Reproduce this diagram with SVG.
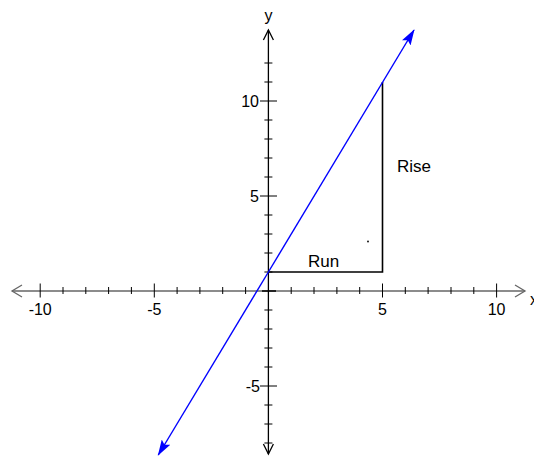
<svg xmlns="http://www.w3.org/2000/svg" width="534" height="456" viewBox="0 0 534 456">
<style>
.t{font-family:"Liberation Sans",Arial,sans-serif;font-size:16px;fill:#000}
.xa{stroke:#666;stroke-width:1.3;fill:none}
.ya{stroke:#000;stroke-width:1.3;fill:none}
.tk{stroke:#000;stroke-width:1}
.tri{stroke:#000;stroke-width:1.6;fill:none}
.ln{stroke:#0000ff;stroke-width:1.4;fill:none}
</style>
<defs>
<marker id="ah" viewBox="0 0 16 10" refX="15" refY="5" markerWidth="16" markerHeight="10" markerUnits="userSpaceOnUse" orient="auto">
<path d="M0,0 L16,5 L0,10 L3,5 Z" fill="#0000ff"/>
</marker>
</defs>
<g id="x-axis">
<line class="xa" x1="12" y1="291" x2="525" y2="291"/>
<polyline class="xa" points="22,285 12,291 22,297"/>
<polyline class="xa" points="515,285 525,291 515,297"/>
<g class="tk">
<line x1="40.2" y1="283.5" x2="40.2" y2="297.5"/>
<line x1="63" y1="287" x2="63" y2="294"/>
<line x1="85.8" y1="287" x2="85.8" y2="294"/>
<line x1="108.6" y1="287" x2="108.6" y2="294"/>
<line x1="131.4" y1="287" x2="131.4" y2="294"/>
<line x1="154.3" y1="283.5" x2="154.3" y2="297.5"/>
<line x1="177.1" y1="287" x2="177.1" y2="294"/>
<line x1="199.9" y1="287" x2="199.9" y2="294"/>
<line x1="222.7" y1="287" x2="222.7" y2="294"/>
<line x1="245.6" y1="287" x2="245.6" y2="294"/>
<line x1="291.2" y1="287" x2="291.2" y2="294"/>
<line x1="314" y1="287" x2="314" y2="294"/>
<line x1="336.9" y1="287" x2="336.9" y2="294"/>
<line x1="359.7" y1="287" x2="359.7" y2="294"/>
<line x1="382.5" y1="283.5" x2="382.5" y2="297.5"/>
<line x1="405.3" y1="287" x2="405.3" y2="294"/>
<line x1="428.1" y1="287" x2="428.1" y2="294"/>
<line x1="451" y1="287" x2="451" y2="294"/>
<line x1="473.8" y1="287" x2="473.8" y2="294"/>
<line x1="496.6" y1="283.5" x2="496.6" y2="297.5"/>
</g>
<text class="t" x="40.2" y="314.5" text-anchor="middle">-10</text>
<text class="t" x="154.3" y="314.5" text-anchor="middle">-5</text>
<text class="t" x="382.5" y="314.5" text-anchor="middle">5</text>
<text class="t" x="496.6" y="314.5" text-anchor="middle">10</text>
<text class="t" x="530" y="305">x</text>
</g>
<g id="y-axis">
<line class="ya" x1="268.4" y1="30" x2="268.4" y2="454"/>
<polyline class="ya" points="263.4,40 268.4,30 273.4,40"/>
<polyline class="ya" points="263.4,444 268.4,454 273.4,444"/>
<g class="tk">
<line x1="264.4" y1="63" x2="272.4" y2="63"/>
<line x1="264.4" y1="82" x2="272.4" y2="82"/>
<line x1="260" y1="101" x2="277" y2="101"/>
<line x1="264.4" y1="120" x2="272.4" y2="120"/>
<line x1="264.4" y1="139" x2="272.4" y2="139"/>
<line x1="264.4" y1="158" x2="272.4" y2="158"/>
<line x1="264.4" y1="177" x2="272.4" y2="177"/>
<line x1="260" y1="196" x2="277" y2="196"/>
<line x1="264.4" y1="215" x2="272.4" y2="215"/>
<line x1="264.4" y1="234" x2="272.4" y2="234"/>
<line x1="264.4" y1="253" x2="272.4" y2="253"/>
<line x1="264.4" y1="272" x2="272.4" y2="272"/>
<line x1="262" y1="291" x2="276" y2="291" stroke-width="1.5"/>
<line x1="264.4" y1="310" x2="272.4" y2="310"/>
<line x1="264.4" y1="329" x2="272.4" y2="329"/>
<line x1="264.4" y1="348" x2="272.4" y2="348"/>
<line x1="264.4" y1="367" x2="272.4" y2="367"/>
<line x1="260" y1="386" x2="277" y2="386"/>
<line x1="264.4" y1="405" x2="272.4" y2="405"/>
<line x1="264.4" y1="424" x2="272.4" y2="424"/>
<line x1="264.4" y1="443" x2="272.4" y2="443"/>
</g>
<text class="t" x="259" y="107" text-anchor="end">10</text>
<text class="t" x="259" y="202" text-anchor="end">5</text>
<text class="t" x="260" y="392" text-anchor="end">-5</text>
<text class="t" x="268.4" y="21" text-anchor="middle">y</text>
</g>
<g id="triangle">
<polyline class="tri" points="268.4,272 382.5,272 382.5,82"/>
<circle cx="368" cy="241.5" r="0.9" fill="#000"/>
<text class="t" x="323.5" y="267" text-anchor="middle" style="font-size:17px">Run</text>
<text class="t" x="397" y="172" style="font-size:17px">Rise</text>
</g>
<g id="connectors">
<line class="ln" x1="268.4" y1="272" x2="414" y2="30" marker-end="url(#ah)"/>
<line class="ln" x1="268.4" y1="272" x2="158.3" y2="455" marker-end="url(#ah)"/>
</g>
</svg>
